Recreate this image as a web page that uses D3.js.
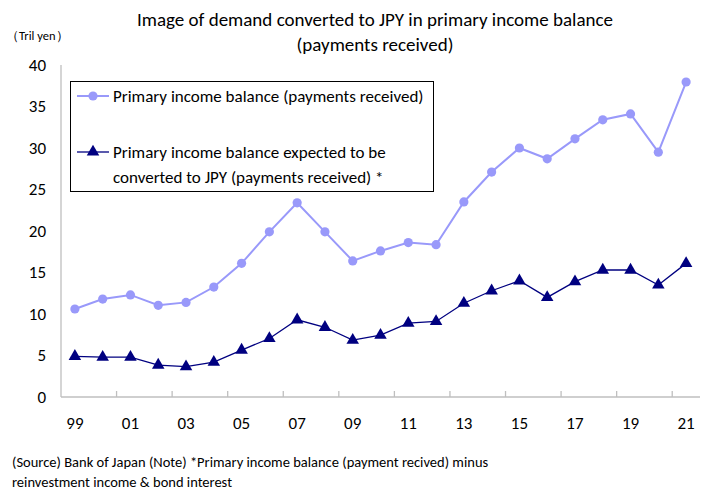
<!DOCTYPE html>
<html><head><meta charset="utf-8">
<script src="https://cdn.jsdelivr.net/npm/d3@7"></script>
<style>
body{margin:0;background:#fff;}
text{font-family:Carlito,"Liberation Sans Narrow",Lato,sans-serif;fill:#000;}
</style></head>
<body><svg id="c" width="711" height="490"></svg>
<script>
const years = ["99","00","01","02","03","04","05","06","07","08","09","10","11","12","13","14","15","16","17","18","19","20","21"];
const xTickLabels = ["99","01","03","05","07","09","11","13","15","17","19","21"];
const primaryIncome = [10.6,11.8,12.3,11.05,11.4,13.25,16.1,19.9,23.4,19.9,16.4,17.6,18.6,18.35,23.5,27.1,30.0,28.7,31.1,33.4,34.1,29.5,37.95];
const convertedJPY = [4.9,4.8,4.8,3.85,3.65,4.2,5.65,7.05,9.3,8.4,6.85,7.45,8.9,9.1,11.3,12.8,14.0,12.0,13.9,15.3,15.3,13.5,16.1];
const yTicks = [0,5,10,15,20,25,30,35,40];
const seriesNames = ["Primary income balance (payments received)", ["Primary income balance expected to be","converted to JPY (payments received) *"]];
const titleLines = ["Image of demand converted to JPY in primary income balance","(payments received)"];
const unitLabel = "（Tril yen）";
const footLines = ["(Source) Bank of Japan  (Note) *Primary income balance (payment recived) minus","reinvestment income & bond interest"];

const svg = d3.select("#c");
const L=61, R=700, T=65, B=397;
const x = d3.scaleBand().domain(years).range([L,R]);
const y = d3.scaleLinear().domain([0,40]).range([B,T]);
const light="#9999FA", dark="#000080", axisCol="#BFBFBF";

// title
svg.selectAll(".title").data(titleLines).join("text")
  .attr("x",375).attr("y",(d,i)=>26+i*25).attr("text-anchor","middle")
  .style("font-size","19px").text(d=>d);
svg.append("text").attr("x",6).attr("y",40).style("font-size","12.5px").text(unitLabel);

// y axis
svg.append("line").attr("x1",L).attr("x2",L).attr("y1",T).attr("y2",B).attr("stroke",axisCol).attr("stroke-width",1.3);
svg.selectAll(".yl").data(yTicks).join("text")
  .attr("x",46).attr("y",d=>y(d)).attr("dy","0.35em").attr("text-anchor","end")
  .style("font-size","17px").text(d=>d);

// x axis
svg.append("line").attr("x1",L).attr("x2",R).attr("y1",B).attr("y2",B).attr("stroke",axisCol).attr("stroke-width",1.3);
const tickIdx = d3.range(2, years.length, 2);
svg.selectAll(".xt").data(tickIdx).join("line")
  .attr("x1",i=>x(years[i])).attr("x2",i=>x(years[i]))
  .attr("y1",B).attr("y2",B-6).attr("stroke",axisCol).attr("stroke-width",1.3);
svg.selectAll(".xl").data(xTickLabels).join("text")
  .attr("x",d=>x(d)+x.bandwidth()/2).attr("y",423).attr("dy","0.35em").attr("text-anchor","middle")
  .style("font-size","17px").text(d=>d);

// light series
const cx = d=>x(d)+x.bandwidth()/2;
const line1 = d3.line().x((d,i)=>cx(years[i])).y(d=>y(d));
svg.append("path").attr("d",line1(primaryIncome)).attr("fill","none").attr("stroke",light).attr("stroke-width",2);
svg.selectAll(".p1").data(primaryIncome).join("circle")
  .attr("cx",(d,i)=>cx(years[i])).attr("cy",d=>y(d)).attr("r",4.6).attr("fill",light);

// dark series
svg.append("path").attr("d",line1(convertedJPY)).attr("fill","none").attr("stroke",dark).attr("stroke-width",1.3);
const tri = d3.symbol().type(d3.symbolTriangle).size(68);
svg.selectAll(".p2").data(convertedJPY).join("path")
  .attr("transform",(d,i)=>`translate(${cx(years[i])},${y(d)})`).attr("d",tri).attr("fill",dark);

// legend
svg.append("rect").attr("x",70.5).attr("y",81.5).attr("width",363).attr("height",110).attr("fill","#fff").attr("stroke","#000").attr("stroke-width",1);
svg.append("line").attr("x1",77).attr("x2",109).attr("y1",96).attr("y2",96).attr("stroke",light).attr("stroke-width",2);
svg.append("circle").attr("cx",93).attr("cy",96).attr("r",4.6).attr("fill",light);
svg.append("text").attr("x",113).attr("y",96).attr("dy","0.35em").style("font-size","17px").text(seriesNames[0]);
svg.append("line").attr("x1",77).attr("x2",109).attr("y1",152).attr("y2",152).attr("stroke",dark).attr("stroke-width",1.3);
svg.append("path").attr("transform","translate(93,152)").attr("d",tri).attr("fill",dark);
svg.selectAll(".lg2").data(seriesNames[1]).join("text")
  .attr("x",113).attr("y",(d,i)=>152+i*25).attr("dy","0.35em").style("font-size","17px").text(d=>d);

// footnote
svg.selectAll(".ft").data(footLines).join("text")
  .attr("x",12).attr("y",(d,i)=>467+i*20).style("font-size","14.5px").text(d=>d);
</script></body></html>
